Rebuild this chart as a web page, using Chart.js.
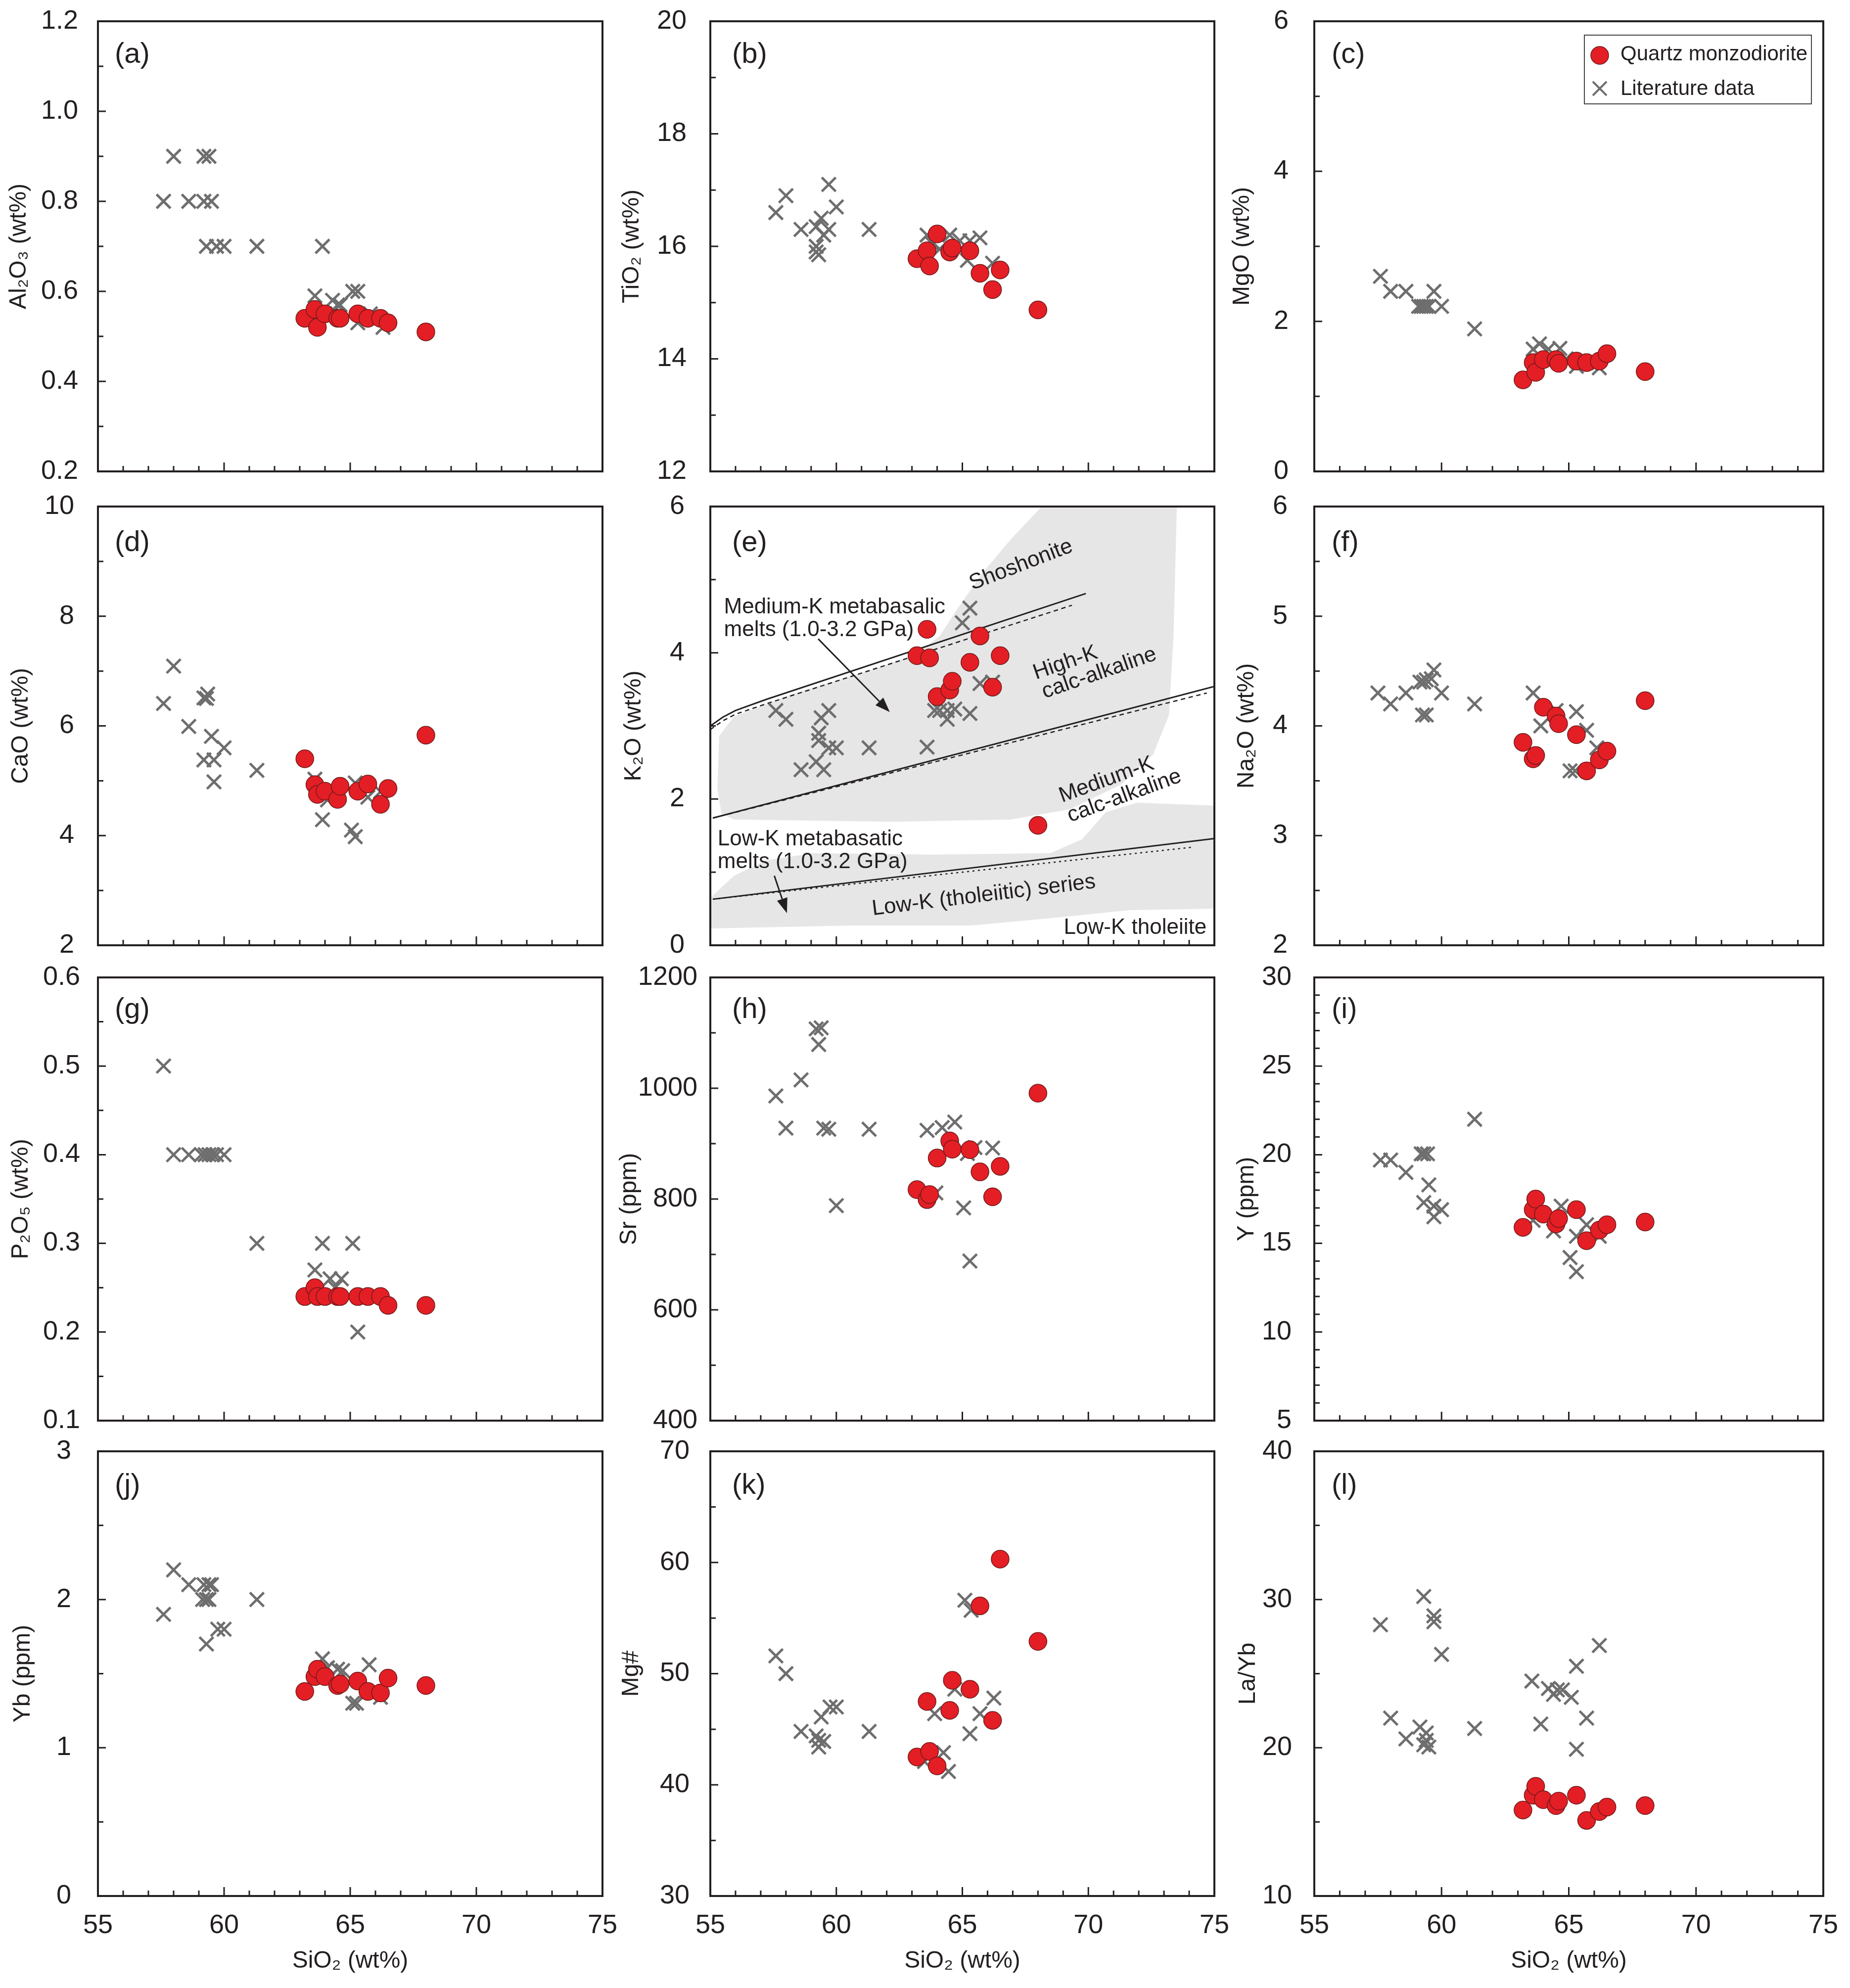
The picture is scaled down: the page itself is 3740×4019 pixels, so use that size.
<!DOCTYPE html>
<html>
<head>
<meta charset="utf-8">
<script src="https://cdn.jsdelivr.net/npm/chart.js@4.4.1/dist/chart.umd.min.js"></script>
<style>
  html, body { margin: 0; padding: 0; background: #fff; }
  body { width: 3740px; height: 4019px; position: relative; overflow: hidden; }
  canvas { position: absolute; }
</style>
</head>
<body>
<script>
// ---- data ----
// quartz monzodiorite samples (same SiO2 in every panel)
const sampleSiO2  = [63.2, 63.6, 63.7, 64.0, 64.5, 64.6, 65.3, 65.7, 66.2, 66.5, 68.0];
const sampleAl2O3 = [0.54, 0.56, 0.52, 0.55, 0.54, 0.54, 0.55, 0.54, 0.54, 0.53, 0.51];
const sampleTiO2  = [15.78, 15.92, 15.65, 16.22, 15.90, 15.97, 15.92, 15.52, 15.23, 15.58, 14.87];
const sampleMgO   = [1.22, 1.45, 1.32, 1.49, 1.49, 1.44, 1.47, 1.45, 1.47, 1.57, 1.33];
const sampleCaO   = [5.40, 4.93, 4.75, 4.81, 4.66, 4.90, 4.81, 4.94, 4.57, 4.86, 5.83];
const sampleK2O   = [3.96, 4.32, 3.93, 3.40, 3.49, 3.61, 3.87, 4.23, 3.53, 3.96, 1.64];
const sampleNa2O  = [3.85, 3.70, 3.73, 4.17, 4.09, 4.02, 3.92, 3.59, 3.69, 3.77, 4.23];
const sampleP2O5  = [0.24, 0.25, 0.24, 0.24, 0.24, 0.24, 0.24, 0.24, 0.24, 0.23, 0.23];
const sampleSr    = [817, 799, 808, 874, 905, 890, 889, 849, 804, 859, 991];
const sampleY     = [15.9, 16.9, 17.5, 16.65, 16.1, 16.4, 16.9, 15.15, 15.75, 16.05, 16.2];
const sampleYb    = [1.38, 1.48, 1.53, 1.48, 1.42, 1.43, 1.45, 1.38, 1.37, 1.47, 1.42];
const sampleMgNo  = [42.5, 47.5, 43.0, 41.7, 46.7, 49.4, 48.6, 56.1, 45.8, 60.3, 52.9];
const sampleLaYb  = [15.8, 16.8, 17.4, 16.5, 16.1, 16.4, 16.8, 15.1, 15.7, 16.0, 16.1];

// literature data, one x/y pair of lists per panel
const litSiO2A = [57.6, 58.0, 58.6, 59.2, 59.5, 59.2, 59.4, 59.3, 59.7, 60.0, 61.3, 63.9, 63.6, 64.3, 64.5, 64.6, 65.1, 65.3, 65.3, 65.8, 66.3, 64.0];
const litAl2O3 = [0.80, 0.90, 0.80, 0.80, 0.80, 0.90, 0.90, 0.70, 0.70, 0.70, 0.70, 0.70, 0.59, 0.58, 0.57, 0.57, 0.60, 0.60, 0.53, 0.55, 0.52, 0.55];
const litSiO2B = [57.6, 58.0, 58.6, 59.2, 59.2, 59.3, 59.2, 59.4, 59.5, 59.7, 59.7, 60.0, 61.3, 63.6, 64.5, 63.8, 64.1, 64.9, 65.3, 65.2, 65.7, 66.2];
const litTiO2  = [16.6, 16.9, 16.3, 16.0, 15.9, 15.85, 16.35, 16.5, 16.2, 16.3, 17.1, 16.7, 16.3, 16.2, 16.2, 16.05, 15.95, 16.1, 16.1, 15.75, 16.15, 15.7];
const litSiO2C = [57.6, 58.0, 58.6, 59.7, 59.1, 59.2, 59.3, 59.4, 59.5, 60.0, 61.3, 63.6, 63.85, 64.2, 64.65, 65.3, 66.2, 64.9, 65.7];
const litMgO   = [2.6, 2.4, 2.4, 2.4, 2.2, 2.2, 2.2, 2.2, 2.2, 2.2, 1.9, 1.63, 1.7, 1.63, 1.64, 1.4, 1.38, 1.5, 1.45];
const litSiO2D = [57.6, 58.0, 58.6, 59.2, 59.35, 59.3, 59.5, 60.0, 59.2, 59.6, 59.6, 61.3, 63.9, 65.05, 65.2, 63.6, 65.2, 65.7, 64.1, 66.2];
const litCaO   = [6.41, 7.09, 5.99, 6.51, 6.58, 6.50, 5.81, 5.60, 5.38, 5.38, 4.98, 5.19, 4.29, 4.10, 3.98, 5.03, 4.96, 4.70, 4.65, 4.80];
const litSiO2E = [57.6, 58.0, 58.6, 59.2, 59.5, 59.3, 59.3, 59.4, 59.7, 59.7, 60.0, 61.3, 63.6, 63.9, 64.1, 64.4, 64.4, 64.7, 65.3, 65.0, 65.3, 65.7, 66.2];
const litK2O   = [3.21, 3.09, 2.40, 2.51, 2.40, 2.90, 2.80, 3.11, 3.21, 2.70, 2.70, 2.70, 2.71, 3.21, 3.21, 3.09, 3.21, 3.23, 3.17, 4.41, 4.61, 3.58, 3.60];
const litSiO2F = [57.5, 58.0, 58.6, 59.15, 59.3, 59.4, 59.7, 59.6, 60.0, 59.25, 59.4, 61.3, 63.6, 63.9, 64.5, 65.3, 65.7, 65.05, 65.25, 66.1];
const litNa2O  = [4.30, 4.20, 4.30, 4.40, 4.40, 4.42, 4.51, 4.43, 4.30, 4.10, 4.10, 4.20, 4.30, 4.00, 4.14, 4.13, 3.96, 3.59, 3.59, 3.80];
const litSiO2G = [57.6, 58.0, 58.6, 59.1, 59.25, 59.4, 59.55, 59.7, 60.0, 61.3, 63.9, 65.1, 63.6, 64.2, 64.65, 65.3, 64.4];
const litP2O5  = [0.50, 0.40, 0.40, 0.40, 0.40, 0.40, 0.40, 0.40, 0.40, 0.30, 0.30, 0.30, 0.27, 0.26, 0.26, 0.20, 0.25];
const litSiO2H = [57.6, 58.0, 58.6, 59.2, 59.4, 59.3, 59.5, 59.7, 60.0, 61.3, 63.6, 64.2, 64.7, 65.05, 65.3, 63.95, 65.5, 66.2, 65.2];
const litSr    = [986, 928, 1015, 1107, 1109, 1079, 928, 926, 788, 926, 924, 929, 939, 784, 688, 811, 893, 892, 882];
const litSiO2I = [57.6, 58.0, 58.6, 59.2, 59.3, 59.45, 59.5, 59.3, 59.7, 60.0, 59.7, 61.3, 63.6, 64.4, 64.7, 65.05, 65.3, 65.3, 65.7, 66.2];
const litY     = [19.7, 19.7, 19.0, 20.05, 20.05, 20.05, 18.3, 17.3, 17.1, 16.9, 16.5, 22.0, 16.3, 15.7, 17.1, 14.2, 13.4, 15.4, 16.05, 15.4];
const litSiO2J = [57.6, 58.0, 58.6, 59.2, 59.4, 59.5, 59.15, 59.3, 59.4, 59.3, 59.75, 60.0, 61.3, 63.9, 64.5, 64.7, 65.75, 65.1, 65.25, 66.2, 64.1];
const litYb    = [1.90, 2.20, 2.10, 2.10, 2.10, 2.10, 2.00, 2.00, 2.00, 1.70, 1.80, 1.80, 2.00, 1.60, 1.53, 1.52, 1.56, 1.30, 1.30, 1.34, 1.54];
const litSiO2K = [57.6, 58.0, 58.6, 59.2, 59.3, 59.3, 59.5, 59.4, 59.75, 60.0, 61.3, 63.5, 63.9, 64.25, 64.45, 64.7, 65.1, 65.35, 65.3, 65.7, 66.25];
const litMgNo  = [51.6, 50.0, 44.8, 44.4, 44.0, 43.4, 43.9, 46.1, 47.0, 47.0, 44.8, 42.1, 46.4, 42.9, 41.2, 48.6, 56.6, 55.7, 44.6, 46.4, 47.8];
const litSiO2L = [57.6, 58.0, 58.6, 59.15, 59.3, 59.4, 59.3, 59.5, 59.4, 59.7, 59.7, 60.0, 61.3, 63.55, 63.9, 64.2, 64.4, 64.55, 64.75, 65.1, 65.3, 65.3, 65.7, 66.2];
const litLaYb  = [28.3, 22.0, 20.6, 21.4, 30.2, 21.0, 20.2, 20.05, 20.5, 28.9, 28.5, 26.3, 21.3, 24.5, 21.6, 24.0, 23.6, 23.9, 23.9, 23.4, 25.5, 19.9, 22.0, 26.9];

// tick labels
const xTicks  = [55, 60, 65, 70, 75];
const yTicksA = [0.2, 0.4, 0.6, 0.8, 1.0, 1.2];
const yTicksB = [12, 14, 16, 18, 20];
const yTicksC = [0, 2, 4, 6];
const yTicksD = [2, 4, 6, 8, 10];
const yTicksE = [0, 2, 4, 6];
const yTicksF = [2, 3, 4, 5, 6];
const yTicksG = [0.1, 0.2, 0.3, 0.4, 0.5, 0.6];
const yTicksH = [400, 600, 800, 1000, 1200];
const yTicksI = [5, 10, 15, 20, 25, 30];
const yTicksJ = [0, 1, 2, 3];
const yTicksK = [30, 40, 50, 60, 70];
const yTicksL = [10, 20, 30, 40];

// K2O-SiO2 diagram (panel e): series boundaries and fields
const shoshLineX = [55.0, 55.5, 56.0, 57.2, 69.9];
const shoshLineY = [3.00, 3.12, 3.21, 3.36, 4.81];
const shoshDashX = [55.0, 55.5, 56.0, 57.2, 69.35];
const shoshDashY = [2.95, 3.07, 3.16, 3.30, 4.65];
const highKLineX = [55.1, 75.0];
const highKLineY = [1.74, 3.54];
const highKDashX = [55.1, 74.7];
const highKDashY = [1.74, 3.45];
const lowKLineX  = [55.1, 75.0];
const lowKLineY  = [0.63, 1.46];
const lowKDashX  = [55.1, 74.1];
const lowKDashY  = [0.63, 1.34];
const mediumFieldX = [68.15, 66.92, 65.82, 64.88, 64.10, 63.16, 61.43, 58.29, 55.94, 55.35, 55.28, 55.44, 55.94, 62.22, 66.92, 69.27, 71.31, 72.57, 73.20, 73.38, 73.51];
const mediumFieldY = [6.00, 5.55, 5.10, 4.64, 4.23, 3.98, 3.77, 3.44, 3.13, 2.86, 2.15, 1.80, 1.72, 1.69, 1.72, 1.86, 2.20, 2.61, 3.15, 4.23, 6.00];
const lowFieldX = [55.0, 55.94, 57.2, 59.08, 63.78, 68.49, 69.75, 70.69, 71.94, 75.0, 75.0, 71.63, 68.49, 65.35, 60.65, 55.0];
const lowFieldY = [0.65, 0.95, 1.16, 1.26, 1.24, 1.26, 1.45, 1.82, 1.95, 1.91, 0.50, 0.48, 0.37, 0.27, 0.27, 0.23];

const eLabels = [
  { text: 'Shoshonite', x: 67.33, y: 5.20, rot: -21, align: 'center' },
  { text: 'Medium-K metabasalic', x: 55.54, y: 4.62, rot: 0, align: 'left' },
  { text: 'melts (1.0-3.2 GPa)', x: 55.54, y: 4.31, rot: 0, align: 'left' },
  { text: 'High-K', x: 69.09, y: 3.86, rot: -19, align: 'center' },
  { text: 'calc-alkaline', x: 70.43, y: 3.72, rot: -19, align: 'center' },
  { text: 'Medium-K', x: 70.72, y: 2.26, rot: -20, align: 'center' },
  { text: 'calc-alkaline', x: 71.43, y: 2.04, rot: -20, align: 'center' },
  { text: 'Low-K metabasatic', x: 55.29, y: 1.45, rot: 0, align: 'left' },
  { text: 'melts (1.0-3.2 GPa)', x: 55.29, y: 1.14, rot: 0, align: 'left' },
  { text: 'Low-K (tholeiitic) series', x: 65.85, y: 0.68, rot: -7, align: 'center' },
  { text: 'Low-K tholeiite', x: 74.69, y: 0.24, rot: 0, align: 'right' }
];
const eArrows = [
  { x1: 59.28, y1: 4.19, x2: 62.12, y2: 3.19 },
  { x1: 57.54, y1: 0.95, x2: 58.04, y2: 0.44 }
];

// ---- look ----
const FONT = '"Liberation Sans", Arial, Helvetica, sans-serif';
const INK = '#231f20';
const RED = '#e41e25';
const GREY = '#6e6e6e';
const FIELD = '#e6e6e6';

const colLeft = [198, 1436, 2657], colRight = [1218, 2455, 3686];
const rowTop = [43, 1024, 1976, 2934], rowBottom = [953, 1911, 2872, 3833];
const labelDx = [34, 44, 35], labelDy = [84, 90, 82, 86];
// canvas margins round each plot area (big enough for Chart.js label padding)
const L = 195, T = 100, R = 60;

const panels = [
  { id: 'a', row: 0, col: 0, title: 'Al₂O₃ (wt%)', yTicks: yTicksA, yMinor: 0.1, dec: 1, sy: sampleAl2O3, lx: litSiO2A, ly: litAl2O3, titleOff: 159, pad: 32 },
  { id: 'b', row: 0, col: 1, title: 'TiO₂ (wt%)', yTicks: yTicksB, yMinor: 1, dec: 0, sy: sampleTiO2, lx: litSiO2B, ly: litTiO2, titleOff: 158, pad: 40 },
  { id: 'c', row: 0, col: 2, title: 'MgO (wt%)', yTicks: yTicksC, yMinor: 1, dec: 0, sy: sampleMgO, lx: litSiO2C, ly: litMgO, titleOff: 145, pad: 44, legend: true },
  { id: 'd', row: 1, col: 0, title: 'CaO (wt%)', yTicks: yTicksD, yMinor: 1, dec: 0, sy: sampleCaO, lx: litSiO2D, ly: litCaO, titleOff: 155, pad: 40 },
  { id: 'e', row: 1, col: 1, title: 'K₂O (wt%)', yTicks: yTicksE, yMinor: 1, dec: 0, sy: sampleK2O, lx: litSiO2E, ly: litK2O, titleOff: 154, pad: 44, diagram: true },
  { id: 'f', row: 1, col: 2, title: 'Na₂O (wt%)', yTicks: yTicksF, yMinor: 0.5, dec: 0, sy: sampleNa2O, lx: litSiO2F, ly: litNa2O, titleOff: 136, pad: 46 },
  { id: 'g', row: 2, col: 0, title: 'P₂O₅ (wt%)', yTicks: yTicksG, yMinor: 0.05, dec: 1, sy: sampleP2O5, lx: litSiO2G, ly: litP2O5, titleOff: 155, pad: 28 },
  { id: 'h', row: 2, col: 1, title: 'Sr (ppm)', yTicks: yTicksH, yMinor: 100, dec: 0, sy: sampleSr, lx: litSiO2H, ly: litSr, titleOff: 163, pad: 18 },
  { id: 'i', row: 2, col: 2, title: 'Y (ppm)', yTicks: yTicksI, yMinor: 1, dec: 0, sy: sampleY, lx: litSiO2I, ly: litY, titleOff: 136, pad: 38 },
  { id: 'j', row: 3, col: 0, title: 'Yb (ppm)', yTicks: yTicksJ, yMinor: 0.5, dec: 0, sy: sampleYb, lx: litSiO2J, ly: litYb, titleOff: 151, pad: 46 },
  { id: 'k', row: 3, col: 1, title: 'Mg#', yTicks: yTicksK, yMinor: 5, dec: 0, sy: sampleMgNo, lx: litSiO2K, ly: litMgNo, titleOff: 159, pad: 34 },
  { id: 'l', row: 3, col: 2, title: 'La/Yb', yTicks: yTicksL, yMinor: 5, dec: 0, sy: sampleLaYb, lx: litSiO2L, ly: litLaYb, titleOff: 133, pad: 37 }
];

function pts(xs, ys) {
  return xs.map((x, i) => ({ x: x, y: ys[i] }));
}

function drawCross(ctx, cx, cy, h, w) {
  ctx.beginPath();
  ctx.moveTo(cx - h, cy - h); ctx.lineTo(cx + h, cy + h);
  ctx.moveTo(cx - h, cy + h); ctx.lineTo(cx + h, cy - h);
  ctx.lineWidth = w;
  ctx.strokeStyle = GREY;
  ctx.stroke();
}

function drawDiagram(chart) {
  const { ctx, chartArea: a, scales: { x, y } } = chart;
  const px = v => x.getPixelForValue(v), py = v => y.getPixelForValue(v);
  ctx.save();
  ctx.beginPath();
  ctx.rect(a.left, a.top, a.width, a.height);
  ctx.clip();
  ctx.fillStyle = FIELD;
  [[mediumFieldX, mediumFieldY], [lowFieldX, lowFieldY]].forEach(([xs, ys]) => {
    ctx.beginPath();
    xs.forEach((v, i) => i ? ctx.lineTo(px(v), py(ys[i])) : ctx.moveTo(px(v), py(ys[i])));
    ctx.closePath();
    ctx.fill();
  });
  ctx.fillStyle = INK;
  ctx.font = '44px ' + FONT;
  ctx.textBaseline = 'middle';
  eLabels.forEach(l => {
    ctx.save();
    ctx.translate(px(l.x), py(l.y));
    ctx.rotate(l.rot * Math.PI / 180);
    ctx.textAlign = l.align;
    ctx.fillText(l.text, 0, 0);
    ctx.restore();
  });
  ctx.strokeStyle = INK;
  ctx.lineWidth = 3;
  eArrows.forEach(ar => {
    const x1 = px(ar.x1), y1 = py(ar.y1), x2 = px(ar.x2), y2 = py(ar.y2);
    const ang = Math.atan2(y2 - y1, x2 - x1);
    const hl = 30, hw = 11;
    ctx.beginPath();
    ctx.moveTo(x1, y1);
    ctx.lineTo(x2 - hl * Math.cos(ang), y2 - hl * Math.sin(ang));
    ctx.stroke();
    ctx.beginPath();
    ctx.moveTo(x2, y2);
    ctx.lineTo(x2 - hl * Math.cos(ang) + hw * Math.sin(ang), y2 - hl * Math.sin(ang) - hw * Math.cos(ang));
    ctx.lineTo(x2 - hl * Math.cos(ang) - hw * Math.sin(ang), y2 - hl * Math.sin(ang) + hw * Math.cos(ang));
    ctx.closePath();
    ctx.fill();
  });
  ctx.restore();
}

function makeFrame(p) {
  return {
    id: 'frame' + p.id,
    beforeDatasetsDraw(chart) {
      if (p.diagram) drawDiagram(chart);
    },
    afterDraw(chart) {
      const { ctx, chartArea: a, scales: { x, y } } = chart;
      ctx.save();
      // tick marks pointing inwards
      ctx.strokeStyle = INK;
      ctx.lineWidth = 3;
      ctx.beginPath();
      for (let v = 56; v < 75; v++) {
        const xx = x.getPixelForValue(v);
        const len = v % 5 === 0 ? 18 : 11;
        ctx.moveTo(xx, a.bottom);
        ctx.lineTo(xx, a.bottom - len);
      }
      const y0 = p.yTicks[0], y1 = p.yTicks[p.yTicks.length - 1];
      const n = Math.round((y1 - y0) / p.yMinor);
      for (let i = 1; i < n; i++) {
        const v = y0 + i * p.yMinor;
        const major = p.yTicks.some(t => Math.abs(t - v) < 1e-6);
        const yy = y.getPixelForValue(v);
        ctx.moveTo(a.left, yy);
        ctx.lineTo(a.left + (major ? 16 : 11), yy);
      }
      ctx.stroke();
      // frame
      ctx.lineWidth = 4;
      ctx.strokeRect(a.left, a.top, a.right - a.left, a.bottom - a.top);
      // panel letter
      ctx.fillStyle = INK;
      ctx.font = '58px ' + FONT;
      ctx.textAlign = 'left';
      ctx.textBaseline = 'alphabetic';
      ctx.fillText('(' + p.id + ')', a.left + labelDx[p.col], a.top + labelDy[p.row]);
      // legend
      if (p.legend) {
        ctx.lineWidth = 2;
        ctx.strokeStyle = '#444';
        ctx.strokeRect(a.right - 483, a.top + 28, 459, 139);
        ctx.beginPath();
        ctx.arc(a.right - 452, a.top + 69, 18, 0, Math.PI * 2);
        ctx.fillStyle = RED;
        ctx.fill();
        ctx.lineWidth = 1.5;
        ctx.strokeStyle = '#6b1a1a';
        ctx.stroke();
        drawCross(ctx, a.right - 452, a.top + 136, 14, 4);
        ctx.fillStyle = INK;
        ctx.font = '42px ' + FONT;
        ctx.textBaseline = 'middle';
        ctx.fillText('Quartz monzodiorite', a.right - 410, a.top + 67);
        ctx.fillText('Literature data', a.right - 410, a.top + 137);
      }
      ctx.restore();
    }
  };
}

panels.forEach(p => {
  const bottomRow = p.row === 3;
  const xH = bottomRow ? 175 : 0;
  const bPad = bottomRow ? 0 : 100;
  const w = colRight[p.col] - colLeft[p.col] + L + R;
  const h = rowBottom[p.row] - rowTop[p.row] + T + xH + bPad;
  const cv = document.createElement('canvas');
  cv.width = w; cv.height = h;
  cv.style.width = w + 'px'; cv.style.height = h + 'px';
  cv.style.left = (colLeft[p.col] - L) + 'px';
  cv.style.top = (rowTop[p.row] - T) + 'px';
  document.body.appendChild(cv);

  const datasets = [
    {
      label: 'Quartz monzodiorite',
      data: pts(sampleSiO2, p.sy),
      pointStyle: 'circle', pointRadius: 18,
      pointBackgroundColor: RED, pointBorderColor: '#6b1a1a', pointBorderWidth: 1.5,
      order: 0
    },
    {
      label: 'Literature data',
      data: pts(p.lx, p.ly),
      pointStyle: 'crossRot', pointRadius: 20,
      pointBorderColor: GREY, pointBorderWidth: 5,
      order: 1
    }
  ];
  if (p.diagram) {
    const line = (xs, ys, dash, width) => ({
      data: pts(xs, ys), showLine: true, pointRadius: 0,
      borderColor: INK, borderWidth: width, borderDash: dash, fill: false, order: 2
    });
    datasets.push(line(shoshLineX, shoshLineY, [], 3));
    datasets.push(line(shoshDashX, shoshDashY, [9, 7], 2.5));
    datasets.push(line(highKLineX, highKLineY, [], 3));
    datasets.push(line(highKDashX, highKDashY, [9, 7], 2.5));
    datasets.push(line(lowKLineX, lowKLineY, [], 3));
    datasets.push(line(lowKDashX, lowKDashY, [4, 7], 2.5));
  }

  new Chart(cv, {
    type: 'scatter',
    data: { datasets: datasets },
    options: {
      responsive: false,
      animation: false,
      devicePixelRatio: 1,
      events: [],
      layout: { padding: { left: 0, top: T, right: R, bottom: bPad }, autoPadding: false },
      plugins: { legend: { display: false }, tooltip: { enabled: false } },
      scales: {
        x: {
          type: 'linear', position: 'bottom', min: 55, max: 75,
          grid: { display: false }, border: { display: false },
          afterBuildTicks: s => { s.ticks = xTicks.map(v => ({ value: v })); },
          afterFit: s => { s.height = xH; },
          ticks: {
            display: bottomRow, autoSkip: false, maxRotation: 0, padding: 20,
            color: INK, font: { family: FONT, size: 54 }
          },
          title: {
            display: bottomRow, text: 'SiO₂ (wt%)', color: INK,
            font: { family: FONT, size: 48 }, padding: { top: 0, bottom: 14 }
          }
        },
        y: {
          type: 'linear', position: 'left',
          min: p.yTicks[0], max: p.yTicks[p.yTicks.length - 1],
          grid: { display: false }, border: { display: false },
          afterBuildTicks: s => { s.ticks = p.yTicks.map(v => ({ value: v })); },
          afterFit: s => { s.width = L; },
          ticks: {
            autoSkip: false, padding: p.pad, color: INK,
            font: { family: FONT, size: 54 },
            callback: v => p.dec ? Number(v).toFixed(p.dec) : String(v)
          },
          title: {
            display: true, text: p.title, color: INK,
            font: { family: FONT, size: 48 },
            padding: { top: Math.max(0, L - p.titleOff - 28.8), bottom: 0 }
          }
        }
      }
    },
    plugins: [makeFrame(p)]
  });
});
</script>
</body>
</html>
